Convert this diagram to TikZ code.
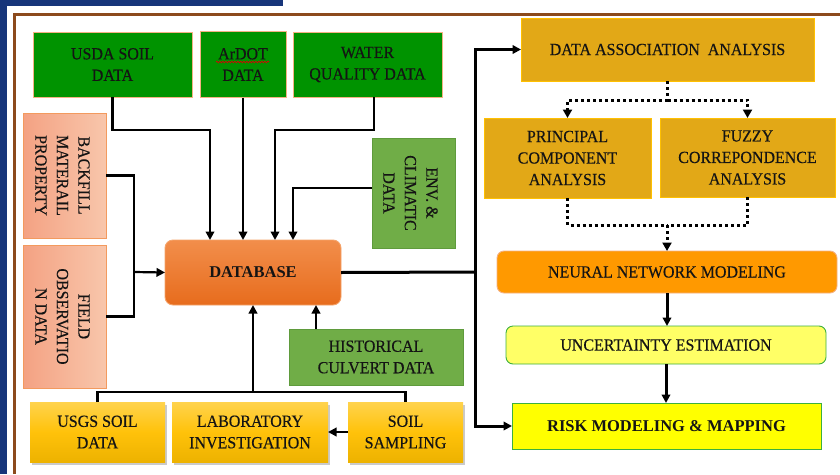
\documentclass[tikz,border=0pt]{standalone}
\usepackage{fontspec}
\setmainfont{Liberation Serif}
\newfontfamily\labelfont{Liberation Serif}[FakeStretch=0.94, FakeBold=0.35]
\usetikzlibrary{arrows.meta,shadows,decorations.pathmorphing}

\definecolor{navy}{HTML}{17357A}
\definecolor{frameBrown}{HTML}{8C4A1C}
\definecolor{txt}{HTML}{141414}
\definecolor{dgreen}{HTML}{009300}
\definecolor{peach}{HTML}{F4B183}
\definecolor{lgreen}{HTML}{70AD47}
\definecolor{lgreenLine}{HTML}{5F9B3C}
\definecolor{salmonA}{HTML}{F4A283}
\definecolor{salmonB}{HTML}{F8C6AB}
\definecolor{salmonLine}{HTML}{F39A5E}
\definecolor{dbTop}{HTML}{F28E4B}
\definecolor{dbBot}{HTML}{E76C1D}
\definecolor{dbLine}{HTML}{F5A36A}
\definecolor{goldTop}{HTML}{FFD34D}
\definecolor{goldMid}{HTML}{FFC20A}
\definecolor{goldBot}{HTML}{EDB200}
\definecolor{mustard}{HTML}{E2A817}
\definecolor{mustardLine}{HTML}{FFC000}
\definecolor{nnOrange}{HTML}{FF9900}
\definecolor{paleYellow}{HTML}{FFFF66}
\definecolor{brightYellow}{HTML}{FFFF00}
\definecolor{okGreen}{HTML}{3DB03D}

\begin{document}
\begin{tikzpicture}[x=1pt,y=-1pt,
  lbl/.style={align=center, text=txt, font=\labelfont\fontsize{17}{21.5}\selectfont},
  boldlbl/.style={font=\fontsize{16.5}{21.5}\selectfont\bfseries},
  box/.style={lbl, draw, line width=0.9pt, inner sep=2pt, outer sep=0pt},
  srcbox/.style={box, fill=dgreen, draw=peach},
  envbox/.style={box, fill=lgreen, draw=lgreenLine},
  salmonbox/.style={box, left color=salmonA, right color=salmonB, draw=salmonLine},
  dbbox/.style={box, boldlbl, rounded corners=8pt, top color=dbTop, bottom color=dbBot, draw=dbLine},
  fieldbox/.style={box, draw=none, top color=goldTop, bottom color=goldBot, middle color=goldMid,
    drop shadow={shadow xshift=2pt, shadow yshift=-3pt, opacity=0.35, fill=black!60}},
  anabox/.style={box, fill=mustard, draw=mustardLine},
  rot/.style={lbl, rotate=-90, inner sep=0pt},
  conn/.style={line width=2.2pt, draw=black},
  heavy/.style={line width=3pt},
  arr/.style={conn, -{Triangle[length=8.5pt,width=8.5pt]}},
  dotline/.style={line width=3pt, draw=black, dash pattern=on 3pt off 3pt},
  dotarr/.style={dotline, -{Triangle[length=8.5pt,width=9pt]}},
]
\useasboundingbox (0,0) rectangle (840,474);

% outer frame
\fill[navy] (0,0) rectangle (283,6);
\fill[navy] (0,0) rectangle (7,474);
\draw[frameBrown, line width=3pt] (14,474) -- (14,14) -- (840,14);

% data sources
\node[srcbox, minimum width=159, minimum height=65] (usda)  at (112.5,64.5) {USDA SOIL\\DATA};
\node[srcbox, minimum width=86,  minimum height=66] (ardot) at (243,64.5)   {ArDOT\\DATA};
\node[srcbox, minimum width=149, minimum height=65] (water) at (367.5,64.5) {WATER\\QUALITY DATA};
\draw[red!85!black, line width=0.7pt, decorate,
  decoration={snake, amplitude=0.8pt, segment length=3pt}]
  ([xshift=-27pt,yshift=2.5pt]ardot.center) -- ([xshift=26pt,yshift=2.5pt]ardot.center);

\node[salmonbox, minimum width=83, minimum height=125] (backfill) at (64.5,175.5) {};
\node[rot] (backfilltxt) at ([xshift=-2pt]backfill.center) {BACKFILL\\MATERAIL\\PROPERTY};
\node[salmonbox, minimum width=83, minimum height=143] (field) at (64.5,316.5) {};
\node[rot] (fieldtxt) at ([xshift=-2pt]field.center) {FIELD\\OBSERVATIO\\N DATA};

\node[envbox, minimum width=83, minimum height=110] (env) at (413.5,193) {};
\node[rot] (envtxt) at ([xshift=-3pt]env.center) {ENV. \&\\CLIMATIC\\DATA};

\node[dbbox, minimum width=176, minimum height=65] (db) at (253,272.5) {DATABASE};

\node[envbox, minimum width=174, minimum height=56] (hist) at (376,357) {HISTORICAL\\CULVERT DATA};

\node[fieldbox, minimum width=135, minimum height=60] (usgs) at (97.5,432)  {USGS SOIL\\DATA};
\node[fieldbox, minimum width=156, minimum height=60] (lab)  at (250,432)   {LABORATORY\\INVESTIGATION};
\node[fieldbox, minimum width=115, minimum height=60] (soil) at (405.5,432) {SOIL\\SAMPLING};

% analysis chain
\node[anabox, minimum width=293, minimum height=63] (daa) at (667.5,49.5) {DATA ASSOCIATION~~ANALYSIS};
\node[anabox, minimum width=167, minimum height=80] (pca) at (567.5,158) {PRINCIPAL\\COMPONENT\\ANALYSIS};
\node[anabox, minimum width=175, minimum height=79] (fca) at (747.5,157.5) {FUZZY\\CORREPONDENCE\\ANALYSIS};
\node[box, rounded corners=7pt, fill=nnOrange, draw=peach, minimum width=340, minimum height=42] (nn) at (667,272) {NEURAL NETWORK MODELING};
\node[box, rounded corners=7pt, fill=paleYellow, draw=okGreen, minimum width=320, minimum height=38] (ue) at (666,345) {UNCERTAINTY ESTIMATION};
\node[box, boldlbl, fill=brightYellow, draw=okGreen, minimum width=309, minimum height=46] (risk) at (666.5,426) {RISK MODELING \& MAPPING};

% junction points
\coordinate (u1) at (210,130);
\coordinate (w1) at (275,130);
\coordinate (e1) at (293,188);
\coordinate (jl) at (134,272);
\coordinate (jb) at (253,392);
\coordinate (jr) at (475,272);
\coordinate (d1) at (667.5,100);
\coordinate (d2) at (667,225);

% inputs to the database
\draw[arr] (usda.south) |- (u1) -- (u1 |- db.north);
\draw[arr] (ardot.south) -- (ardot.south |- db.north);
\draw[arr] ([xshift=6.5pt]water.south) |- (w1) -- (w1 |- db.north);
\draw[arr] (env.west |- e1) -| (e1 |- db.north);
\draw[conn] (backfill.east) -| (jl);
\draw[conn] (field.east) -| (jl);
\draw[arr] (jl) -- (db.west);
\draw[conn] (usgs.north) |- (jb);
\draw[conn] (soil.north) |- (jb);
\draw[arr] (jb) -- (db.south);
\draw[arr] (soil.west) -- (lab.east);
\draw[arr] ([xshift=-60pt]hist.north) -- ([xshift=-60pt]hist.north |- db.south);

% database to analysis and mapping
\draw[conn, heavy] (db.east) -- (jr);
\draw[arr, heavy] (jr) |- (daa.west);
\draw[arr, heavy] (jr) |- (risk.west);

% dotted branching
\draw[dotline] (daa.south) -- (d1);
\draw[dotarr] (d1) -| (pca.north);
\draw[dotarr] (d1) -| (fca.north);
\draw[dotline] (pca.south) |- (d2);
\draw[dotline] (fca.south) |- (d2);
\draw[dotarr] (d2) -- (nn.north);

% modelling chain
\draw[arr, heavy] (nn.south) -- (nn.south |- ue.north);
\draw[arr, heavy] (ue.south) -- (ue.south |- risk.north);
\end{tikzpicture}
\end{document}
